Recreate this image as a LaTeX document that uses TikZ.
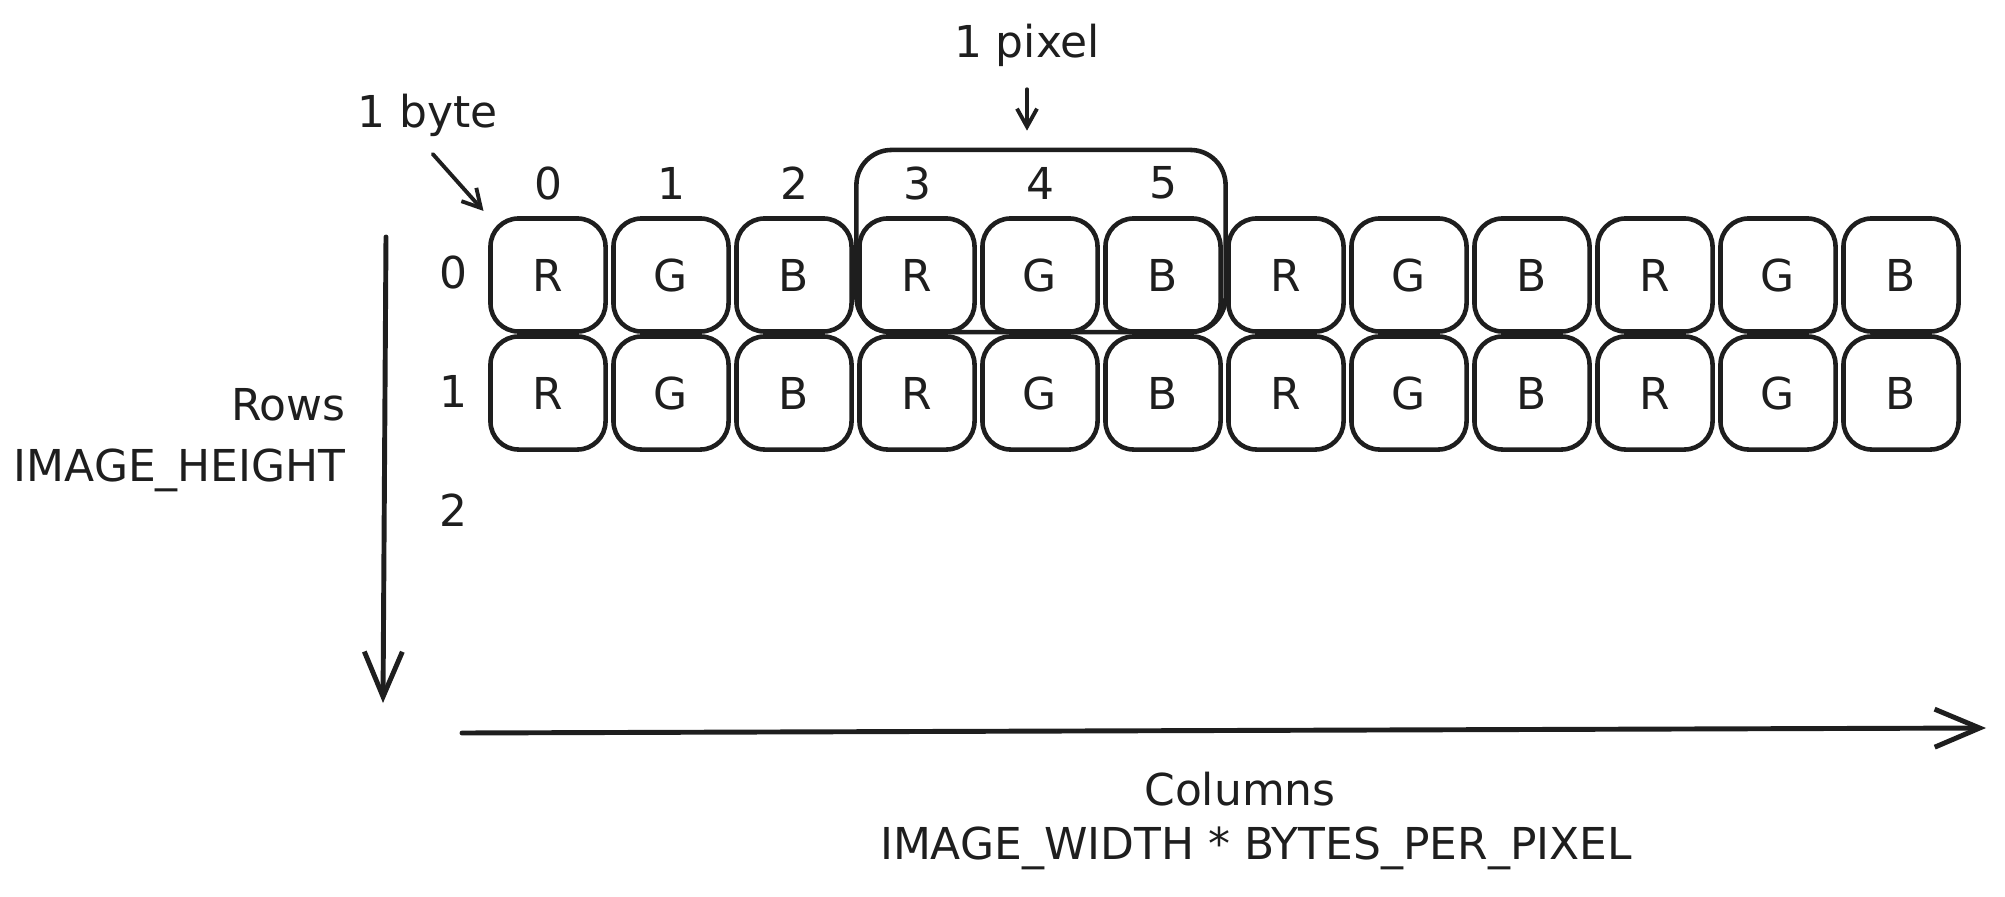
\documentclass[tikz,border=0pt]{standalone}
\usepackage{fontspec}
\setmainfont{DejaVu Sans}
\usetikzlibrary{arrows.meta, positioning}
\definecolor{inkgray}{HTML}{1E1E1E}

\begin{document}
\begin{tikzpicture}[
    x=0.01cm, y=-0.01cm,
    font=\fontsize{12.5}{15}\selectfont,
    byte/.style={rectangle, rounded corners=8pt, draw=inkgray, line width=1.3pt,
                 minimum width=1.15cm, minimum height=1.13cm, text=inkgray},
    lbl/.style={text=inkgray},
    axis/.style={-{Straight Barb[length=4.5mm, width=3.8mm]}, line width=1.4pt,
                 draw=inkgray, line cap=round},
    arr/.style={-{Straight Barb[length=1.8mm, width=2mm]}, line width=1.1pt,
                draw=inkgray, line cap=round}
  ]
    \useasboundingbox (0,0) rectangle (2005,897);
    % the pixel bracket sits behind bytes 3-5
    \node[byte, rounded corners=10pt, minimum width=3.69cm, minimum height=1.82cm] (pix) at (1041,241) {};
    \foreach \r in {0,1}
      \foreach \c/\ch in {0/R,1/G,2/B,3/R,4/G,5/B,6/R,7/G,8/B,9/R,10/G,11/B}
        \node[byte] (b\r-\c) at ({548+123*\c},{275+118*\r}) {\ch};
    % indices
    \foreach \c in {0,...,5}
      \node[lbl] (col\c) at ({548+123*\c},183) {\c};
    \foreach \r in {0,1,2}
      \node[lbl] (row\r) at (453,{272+119*\r}) {\r};
    % annotations
    \node[lbl] (pxlbl) at (1027,45) {1 pixel};
    \draw[arr, shorten <=3pt, shorten >=0.17cm] (pxlbl.south) -- (pxlbl.south |- pix.north);
    \node[lbl] (bytelbl) at (428,115) {1 byte};
    \draw[arr, shorten <=2pt, shorten >=2pt] (bytelbl.south) -- (b0-0.north west);
    % axes
    \coordinate (rtop) at (386,237);
    \coordinate (rbot) at (383,703);
    \draw[axis] (rtop) -- (rbot);
    \coordinate (cleft) at (462,733);
    \coordinate (cright) at (1986,728);
    \draw[axis] (cleft) -- (cright);
    \node[lbl, anchor=east] (rows) at (358,405) {Rows};
    \node[lbl, anchor=east] (imgh) at (358,470) {IMAGE\_HEIGHT};
    \node[lbl] (cols) at (1240,789) {Columns};
    \node[lbl] (imgw) at (1256,848) {IMAGE\_WIDTH * BYTES\_PER\_PIXEL};
  \end{tikzpicture}
\end{document}
